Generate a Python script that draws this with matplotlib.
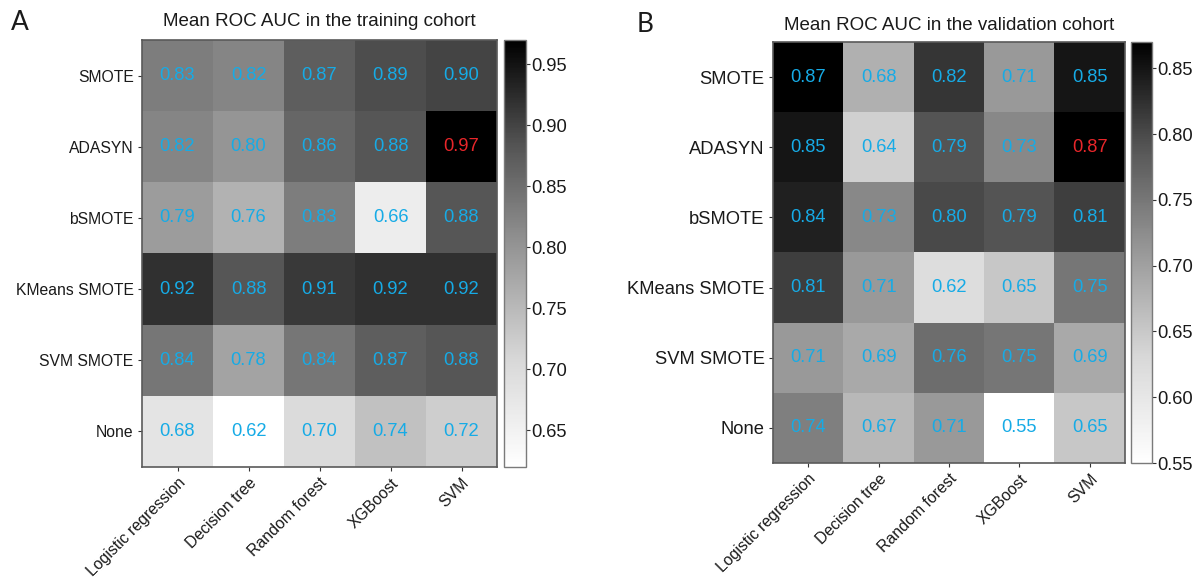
import numpy as np
import matplotlib
matplotlib.use("Agg")
import matplotlib.pyplot as plt
from matplotlib.colors import LinearSegmentedColormap

plt.rcParams['font.family'] = ['Liberation Sans', 'DejaVu Sans']

methods = ["SMOTE", "ADASYN", "bSMOTE", "KMeans SMOTE", "SVM SMOTE", "None"]
models = ["Logistic regression", "Decision tree", "Random forest", "XGBoost", "SVM"]

train_auc = [
    [0.83, 0.82, 0.87, 0.89, 0.90],
    [0.82, 0.80, 0.86, 0.88, 0.97],
    [0.79, 0.76, 0.83, 0.66, 0.88],
    [0.92, 0.88, 0.91, 0.92, 0.92],
    [0.84, 0.78, 0.84, 0.87, 0.88],
    [0.68, 0.62, 0.70, 0.74, 0.72],
]
valid_auc = [
    [0.87, 0.68, 0.82, 0.71, 0.85],
    [0.85, 0.64, 0.79, 0.73, 0.87],
    [0.84, 0.73, 0.80, 0.79, 0.81],
    [0.81, 0.71, 0.62, 0.65, 0.75],
    [0.71, 0.69, 0.76, 0.75, 0.69],
    [0.74, 0.67, 0.71, 0.55, 0.65],
]
# best cell (row, col) highlighted in red
train_best = (1, 4)
valid_best = (1, 4)

train_ticks = [0.65, 0.70, 0.75, 0.80, 0.85, 0.90, 0.95]
valid_ticks = [0.55, 0.60, 0.65, 0.70, 0.75, 0.80, 0.85]

titles = ["Mean ROC AUC in the training cohort", "Mean ROC AUC in the validation cohort"]
panel_labels = ["A", "B"]

cmap = LinearSegmentedColormap.from_list(
    "greys_ab",
    [(0.0, "#ffffff"), (0.25, "#d8d8d8"), (0.5, "#999999"), (0.75, "#555555"), (1.0, "#000000")])

BLUE = "#16abe6"
RED = "#e8262a"
FRAME = "#5a5a5a"

W, H = 1202, 577
fig = plt.figure(figsize=(W / 100, H / 100), dpi=100)


def fx(px):
    return px / W


def fy(py):
    return 1 - py / H


def panel(data, best, ticks, title, label, hm_box, cb_box, ytick_fs, label_pos, title_y):
    data = np.array(data)
    x0, y0, x1, y1 = hm_box
    ax = fig.add_axes([fx(x0), fy(y1), fx(x1 - x0), (y1 - y0) / H])
    im = ax.imshow(data, cmap=cmap, aspect="auto", interpolation="nearest",
                   vmin=data.min(), vmax=data.max())
    for i in range(data.shape[0]):
        for j in range(data.shape[1]):
            col = RED if (i, j) == best else BLUE
            ax.text(j, i, f"{data[i, j]:.2f}", ha="center", va="center",
                    color=col, fontsize=13.2)
    ax.set_xticks(range(len(models)))
    ax.set_xticklabels(models, rotation=45, ha="right", rotation_mode="anchor",
                       fontsize=11.4, color="#1a1a1a")
    ax.set_yticks(range(len(methods)))
    ax.set_yticklabels(methods, fontsize=ytick_fs, color="#1a1a1a")
    ax.tick_params(axis="both", length=3, width=0.8, color="#333333", pad=3)
    for s in ax.spines.values():
        s.set_color(FRAME)
        s.set_linewidth(1.2)
    ax.set_title(title, fontsize=13.5, color="#1a1a1a", pad=0, y=1.0)
    ax.title.set_position((0.5, 1 + (y0 - title_y) / (y1 - y0)))
    ax.title.set_va("center")

    cx0, cx1 = cb_box
    cax = fig.add_axes([fx(cx0), fy(y1), fx(cx1 - cx0), (y1 - y0) / H])
    cb = fig.colorbar(im, cax=cax, ticks=ticks)
    cb.ax.set_yticklabels([f"{t:.2f}" for t in ticks])
    cb.ax.tick_params(length=3, width=0.8, color="#333333", labelsize=13.2,
                      labelcolor="#1a1a1a", pad=1)
    cb.outline.set_edgecolor("#7a7a7a")
    cb.outline.set_linewidth(1.0)

    fig.text(fx(label_pos[0]), fy(label_pos[1]), label, fontsize=19,
             family=["Lato", "DejaVu Sans"], ha="center", va="center", color="#1a1a1a")


panel(train_auc, train_best, train_ticks, titles[0], panel_labels[0],
      (142, 40, 497, 467), (504, 526), 11.3, (20, 22), 21)
panel(valid_auc, valid_best, valid_ticks, titles[1], panel_labels[1],
      (773, 42, 1125, 463), (1131, 1152), 13.2, (645, 25), 25)

fig.savefig("out.png", dpi=100)
